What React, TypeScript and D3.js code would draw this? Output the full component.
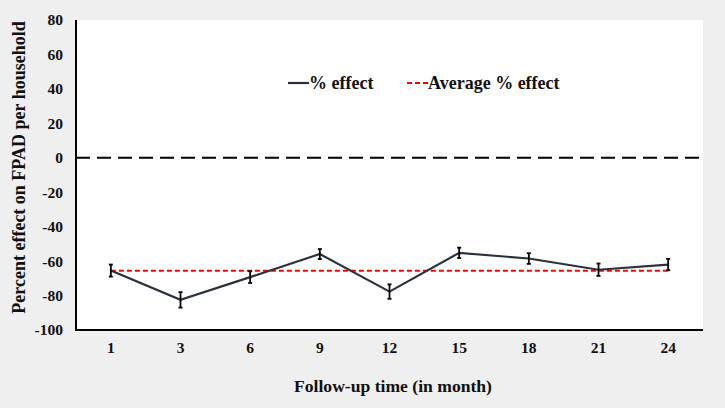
import React from "react";
import * as d3 from "d3";

const months = ["1", "3", "6", "9", "12", "15", "18", "21", "24"];
const effect = [-65.5, -82.5, -69.3, -55.9, -77.7, -55.2, -58.5, -65, -62];
const errors = [3.5, 4.5, 3.4, 2.9, 4.2, 3.0, 3.1, 3.6, 3.3];
const averageEffect = -65.6;
const yTicks = [80, 60, 40, 20, 0, -20, -40, -60, -80, -100];

const W = 725, H = 408;
const L = 76, R = 703, T = 20, B = 330;
const font = "'Liberation Serif', 'Times New Roman', serif";

export default function App() {
  const x = d3.scaleBand<string>().domain(months).range([L, R]);
  const y = d3.scaleLinear().domain([-100, 80]).range([B, T]);
  const cx = (m: string) => (x(m) as number) + x.bandwidth() / 2;
  const line = d3.line<number>().x((_, i) => cx(months[i])).y((d) => y(d));
  const first = cx(months[0]);
  const last = cx(months[months.length - 1]);
  return (
    <svg width={W} height={H} style={{ position: "absolute", left: 0, top: 0 }} fontFamily={font} fontWeight="bold">
      <rect x={0} y={0} width={W} height={H} fill="#efefef" />
      <rect x={L} y={T} width={R - L} height={B - T} fill="#ffffff" />
      {/* zero line */}
      <line x1={L} x2={R} y1={y(0)} y2={y(0)} stroke="#000" strokeWidth={2} strokeDasharray="14,7" />
      {/* average */}
      <line x1={first} x2={last} y1={y(averageEffect)} y2={y(averageEffect)} stroke="#ff0000" strokeWidth={2} strokeDasharray="5,3" />
      {/* series */}
      <path d={line(effect) || ""} fill="none" stroke="#2a313d" strokeWidth={2.2} />
      {effect.map((v, i) => {
        const px = cx(months[i]);
        const e = errors[i];
        return (
          <g key={i} stroke="#000" strokeWidth={1.8}>
            <line x1={px} x2={px} y1={y(v - e)} y2={y(v + e)} />
            <line x1={px - 2} x2={px + 2} y1={y(v - e)} y2={y(v - e)} />
            <line x1={px - 2} x2={px + 2} y1={y(v + e)} y2={y(v + e)} />
          </g>
        );
      })}
      {/* axes */}
      <line x1={L} x2={L} y1={T} y2={B + 1} stroke="#000" strokeWidth={2} />
      <line x1={L - 1} x2={R} y1={B} y2={B} stroke="#000" strokeWidth={2} />
      {yTicks.map((t) => (
        <text key={t} x={63} y={y(t)} dy="0.35em" textAnchor="end" fontSize={15.5} fill="#111">{t}</text>
      ))}
      {months.map((m) => (
        <text key={m} x={cx(m)} y={353} textAnchor="middle" fontSize={15.5} fill="#111">{m}</text>
      ))}
      <text x={393} y={391.5} textAnchor="middle" fontSize={17.6} fill="#111">Follow-up time (in month)</text>
      <text transform={`translate(25,167.5) rotate(-90)`} textAnchor="middle" fontSize={18} fill="#111">Percent effect on FPAD per household</text>
      {/* legend */}
      <line x1={288} x2={309} y1={83} y2={83} stroke="#2a313d" strokeWidth={2.2} />
      <text x={309} y={89} fontSize={18} fill="#111">% effect</text>
      <line x1={407} x2={428} y1={83} y2={83} stroke="#ff0000" strokeWidth={2} strokeDasharray="5,3" />
      <text x={428} y={89} fontSize={18} fill="#111">Average % effect</text>
    </svg>
  );
}
